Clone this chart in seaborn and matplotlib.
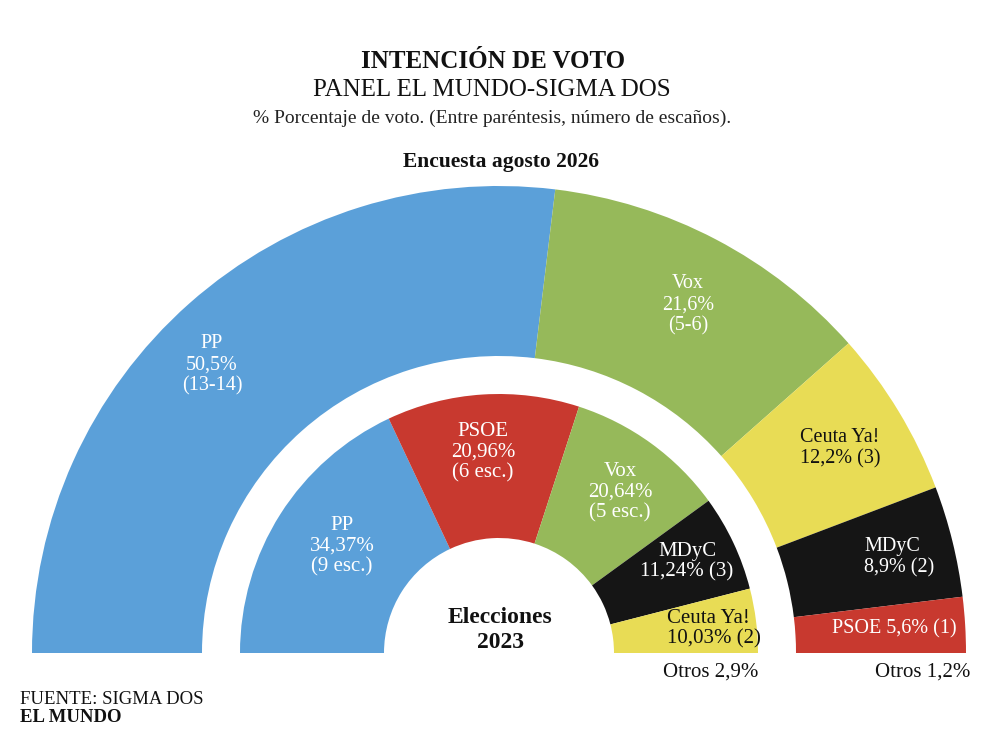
import matplotlib
matplotlib.use("Agg")
import matplotlib.pyplot as plt
import seaborn as sns

# Encuesta agosto 2026 (outer ring), clockwise from the left
partidos_2026 = ["PP", "Vox", "Ceuta Ya!", "MDyC", "PSOE"]
escanos_2026 = [14, 6, 3, 2, 1]  # wedges drawn on the upper seat estimate
etiquetas_2026 = ["PP\n50,5%\n(13-14)", "Vox\n21,6%\n(5-6)", "Ceuta Ya!\n12,2% (3)",
                  "MDyC\n8,9% (2)", "PSOE 5,6% (1)"]
otros_2026 = "Otros 1,2%"

# Elecciones 2023 (inner ring)
partidos_2023 = ["PP", "PSOE", "Vox", "MDyC", "Ceuta Ya!"]
escanos_2023 = [9, 6, 5, 3, 2]
etiquetas_2023 = ["PP\n34,37%\n(9 esc.)", "PSOE\n20,96%\n(6 esc.)", "Vox\n20,64%\n(5 esc.)",
                  "MDyC\n11,24% (3)", "Ceuta Ya!\n10,03% (2)"]
otros_2023 = "Otros 2,9%"

colores = {"PP": "#5ba0d9", "Vox": "#96b95a", "Ceuta Ya!": "#e8dc55",
           "MDyC": "#151515", "PSOE": "#c8392f"}
texto = {"PP": "white", "Vox": "white", "Ceuta Ya!": "#111111",
         "MDyC": "white", "PSOE": "white"}

sns.set_theme(style="white")
plt.rcParams["font.family"] = ["Liberation Serif", "DejaVu Serif"]

W, H = 1001, 746
fig = plt.figure(figsize=(W / 100, H / 100), dpi=100)
ax = fig.add_axes([0, 0, 1, 1])

centro = (499, H - 653)

# half donut: the lower half is a hidden wedge
cols_out = [colores[p] for p in partidos_2026] + ["none"]
ax.pie(escanos_2026 + [sum(escanos_2026)], colors=cols_out, center=centro, radius=467,
       startangle=180, counterclock=False,
       wedgeprops=dict(width=170, linewidth=0))
cols_in = [colores[p] for p in partidos_2023] + ["none"]
ax.pie(escanos_2023 + [sum(escanos_2023)], colors=cols_in, center=centro, radius=259,
       startangle=180, counterclock=False,
       wedgeprops=dict(width=144, linewidth=0))

ax.set_xlim(0, W)
ax.set_ylim(0, H)
ax.set_aspect("equal")
ax.axis("off")


def px(x, y):
    return x, H - y


# label positions (pixels from top-left)
pos_2026 = [(212, 365, "center"), (688, 305, "center"), (800, 448, "left"),
            (864, 557, "left"), (832, 629, "left")]
pos_2023 = [(342, 546, "center"), (483, 452, "center"), (620, 492, "center"),
            (687, 562, "center"), (667, 629, "left")]

for p, lab, (x, y, ha) in zip(partidos_2026, etiquetas_2026, pos_2026):
    ax.text(*px(x, y), lab, ha=ha, va="center", color=texto[p], fontsize=14.5,
            linespacing=1.15, multialignment=ha)
for p, lab, (x, y, ha) in zip(partidos_2023, etiquetas_2023, pos_2023):
    ax.text(*px(x, y), lab, ha=ha, va="center", color=texto[p], fontsize=15,
            linespacing=1.1, multialignment=ha)

ax.text(*px(875, 672), otros_2026, ha="left", va="center", fontsize=15, color="#111111")
ax.text(*px(663, 672), otros_2023, ha="left", va="center", fontsize=15, color="#111111")

ax.text(*px(500, 630), "Elecciones\n2023", ha="center", va="center",
        fontsize=17, fontweight="bold", color="#111111", linespacing=1.2)

ax.text(*px(493, 62), "INTENCIÓN DE VOTO", ha="center", va="center",
        fontsize=18, fontweight="bold", color="#111111")
ax.text(*px(492, 90), "PANEL EL MUNDO-SIGMA DOS", ha="center", va="center",
        fontsize=18, color="#111111")
ax.text(*px(492, 118), "% Porcentaje de voto. (Entre paréntesis, número de escaños).",
        ha="center", va="center", fontsize=14, color="#222222")
ax.text(*px(501, 162), "Encuesta agosto 2026", ha="center", va="center",
        fontsize=15.5, fontweight="bold", color="#111111")

ax.text(*px(20, 699), "FUENTE: SIGMA DOS", ha="left", va="center",
        fontsize=13.5, color="#111111")
ax.text(*px(20, 718), "EL MUNDO", ha="left", va="center",
        fontsize=13.5, fontweight="bold", color="#111111")

fig.savefig("out.png", dpi=100, facecolor="white")
